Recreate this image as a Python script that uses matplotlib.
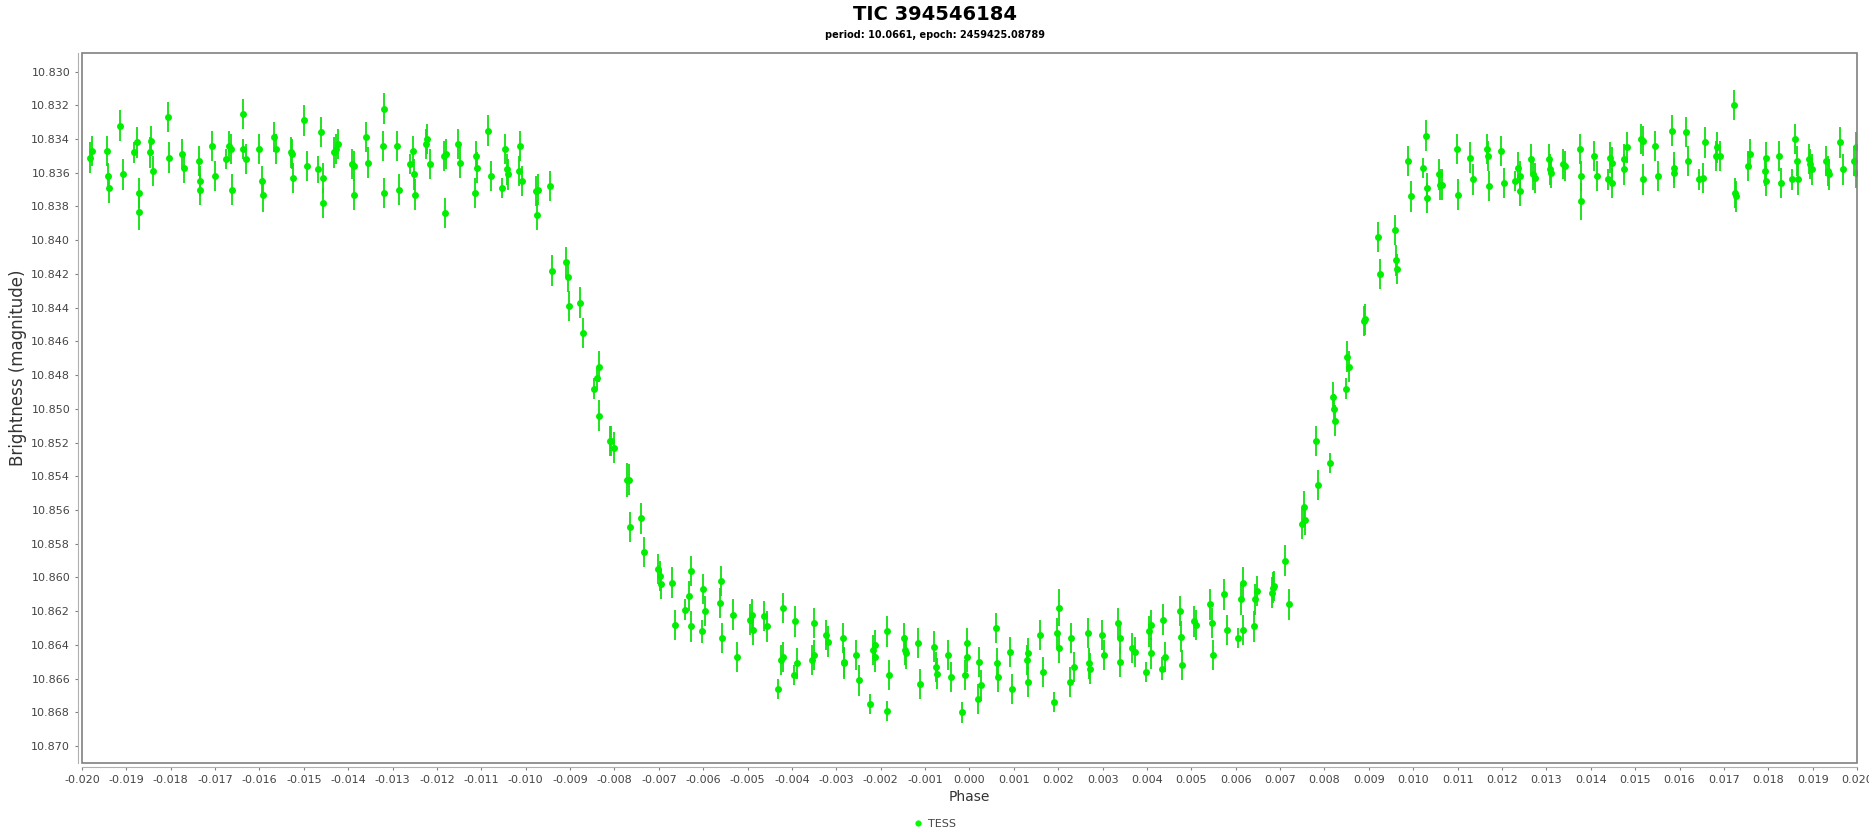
# Phase-folded TESS light curve of TIC 394546184, JFreeChart-ish look
import numpy as np
import matplotlib
matplotlib.use("Agg")
import matplotlib.pyplot as plt
from matplotlib.patches import Rectangle
from matplotlib.lines import Line2D

# out-of-transit, before ingress
phase_pre = [
    -0.01982, -0.01977, -0.01944, -0.01941, -0.01940, -0.01914, -0.01908, -0.01883, -0.01875, -0.01872,
    -0.01871, -0.01846, -0.01845, -0.01839, -0.01807, -0.01803, -0.01775, -0.01770, -0.01737, -0.01734,
    -0.01733, -0.01706, -0.01701, -0.01676, -0.01668, -0.01664, -0.01663, -0.01638, -0.01637, -0.01631,
    -0.01600, -0.01594, -0.01593, -0.01568, -0.01562, -0.01530, -0.01526, -0.01525, -0.01499, -0.01493,
    -0.01468, -0.01461, -0.01458, -0.01457, -0.01431, -0.01428, -0.01424, -0.01392, -0.01388, -0.01387,
    -0.01361, -0.01355, -0.01320, -0.01322, -0.01319, -0.01291, -0.01286, -0.01261, -0.01254, -0.01251,
    -0.01250, -0.01224, -0.01222, -0.01216, -0.01184, -0.01180, -0.01181, -0.01153, -0.01148, -0.01115,
    -0.01112, -0.01110, -0.01085, -0.01078, -0.01054, -0.01047, -0.01042, -0.01041, -0.01016, -0.01014,
    -0.01009, -0.00977, -0.00973, -0.00974, -0.00946]
mag_pre = [
    10.8351, 10.8347, 10.8347, 10.8362, 10.8369, 10.8332, 10.8361, 10.8348, 10.8342, 10.8372,
    10.8383, 10.8348, 10.8341, 10.8359, 10.8327, 10.8351, 10.8349, 10.8357, 10.8353, 10.8365,
    10.8370, 10.8344, 10.8362, 10.8352, 10.8344, 10.8346, 10.8370, 10.8325, 10.8346, 10.8352,
    10.8346, 10.8365, 10.8373, 10.8339, 10.8346, 10.8348, 10.8349, 10.8363, 10.8329, 10.8356,
    10.8358, 10.8336, 10.8363, 10.8378, 10.8348, 10.8346, 10.8343, 10.8355, 10.8356, 10.8373,
    10.8339, 10.8354, 10.8322, 10.8344, 10.8372, 10.8344, 10.8370, 10.8355, 10.8347, 10.8361,
    10.8373, 10.8343, 10.8340, 10.8355, 10.8350, 10.8349, 10.8384, 10.8343, 10.8354, 10.8372,
    10.8350, 10.8357, 10.8335, 10.8362, 10.8369, 10.8346, 10.8358, 10.8361, 10.8359, 10.8344,
    10.8365, 10.8371, 10.8370, 10.8385, 10.8368]
err_pre = [
    0.0009, 0.0009, 0.0009, 0.0008, 0.0009, 0.0009, 0.0009, 0.0006, 0.0009, 0.0009,
    0.0011, 0.0009, 0.0009, 0.0009, 0.0009, 0.0009, 0.0009, 0.0009, 0.0009, 0.0009,
    0.0009, 0.0009, 0.0009, 0.0006, 0.0009, 0.0009, 0.0009, 0.0009, 0.0006, 0.0009,
    0.0009, 0.0009, 0.0010, 0.0009, 0.0009, 0.0009, 0.0009, 0.0009, 0.0009, 0.0009,
    0.0008, 0.0009, 0.0009, 0.0009, 0.0009, 0.0009, 0.0009, 0.0009, 0.0009, 0.0009,
    0.0009, 0.0009, 0.0009, 0.0009, 0.0009, 0.0009, 0.0009, 0.0006, 0.0009, 0.0009,
    0.0009, 0.0009, 0.0009, 0.0009, 0.0009, 0.0009, 0.0009, 0.0009, 0.0009, 0.0009,
    0.0009, 0.0009, 0.0009, 0.0009, 0.0006, 0.0009, 0.0009, 0.0009, 0.0009, 0.0009,
    0.0009, 0.0009, 0.0009, 0.0009, 0.0009]

# ingress and first half of the floor
phase_ingress = [
    -0.00941, -0.00909, -0.00904, -0.00903, -0.00877, -0.00872, -0.00846, -0.00839, -0.00835, -0.00834,
    -0.00810, -0.00807, -0.00802, -0.00771, -0.00767, -0.00766, -0.00740, -0.00733, -0.00701, -0.00697,
    -0.00696, -0.00670, -0.00664, -0.00640, -0.00632, -0.00628, -0.00627, -0.00603, -0.00600, -0.00595,
    -0.00563, -0.00559, -0.00558, -0.00532, -0.00525, -0.00494, -0.00490, -0.00489, -0.00462, -0.00457,
    -0.00431, -0.00424, -0.00421, -0.00420, -0.00395, -0.00394, -0.00388, -0.00354, -0.00351, -0.00350,
    -0.00324, -0.00319]
mag_ingress = [
    10.8418, 10.8413, 10.8422, 10.8439, 10.8437, 10.8455, 10.8488, 10.8482, 10.8475, 10.8504,
    10.8519, 10.8519, 10.8523, 10.8542, 10.8542, 10.8570, 10.8565, 10.8585, 10.8595, 10.8599,
    10.8604, 10.8603, 10.8628, 10.8619, 10.8611, 10.8596, 10.8629, 10.8632, 10.8607, 10.8620,
    10.8615, 10.8602, 10.8636, 10.8622, 10.8647, 10.8625, 10.8622, 10.8631, 10.8623, 10.8629,
    10.8666, 10.8649, 10.8618, 10.8647, 10.8658, 10.8626, 10.8651, 10.8649, 10.8627, 10.8646,
    10.8634, 10.8638]
err_ingress = [
    0.0009, 0.0009, 0.0009, 0.0009, 0.0009, 0.0009, 0.0006, 0.0006, 0.0009, 0.0009,
    0.0009, 0.0009, 0.0009, 0.0010, 0.0009, 0.0009, 0.0009, 0.0009, 0.0009, 0.0009,
    0.0009, 0.0009, 0.0009, 0.0006, 0.0009, 0.0009, 0.0009, 0.0007, 0.0009, 0.0009,
    0.0009, 0.0009, 0.0009, 0.0009, 0.0009, 0.0009, 0.0009, 0.0009, 0.0009, 0.0009,
    0.0006, 0.0009, 0.0009, 0.0009, 0.0006, 0.0009, 0.0009, 0.0009, 0.0009, 0.0009,
    0.0009, 0.0009]

# transit floor up to the start of egress
phase_floor = [
    -0.00286, -0.00283, -0.00282, -0.00255, -0.00250, -0.00224, -0.00217, -0.00214, -0.00213, -0.00187,
    -0.00186, -0.00181, -0.00148, -0.00145, -0.00144, -0.00117, -0.00111, -0.00079, -0.00075, -0.00074,
    -0.00048, -0.00042, -0.00017, -0.00010, -0.00006, -0.00005, 0.00020, 0.00022, 0.00027, 0.00059,
    0.00063, 0.00064, 0.00091, 0.00096, 0.00129, 0.00131, 0.00132, 0.00159, 0.00165, 0.00190,
    0.00198, 0.00201, 0.00202, 0.00227, 0.00229, 0.00235, 0.00266, 0.00270, 0.00271, 0.00298,
    0.00303, 0.00335, 0.00339, 0.00340, 0.00367, 0.00372, 0.00398, 0.00404, 0.00408, 0.00409,
    0.00434, 0.00436, 0.00441, 0.00474, 0.00477, 0.00478, 0.00506, 0.00510, 0.00543, 0.00547,
    0.00548, 0.00574, 0.00580, 0.00604, 0.00612, 0.00616, 0.00617, 0.00642, 0.00643, 0.00649,
    0.00682, 0.00685, 0.00686, 0.00712, 0.00719, 0.00750, 0.00754, 0.00755]
mag_floor = [
    10.8636, 10.8650, 10.8651, 10.8646, 10.8661, 10.8675, 10.8643, 10.8640, 10.8647, 10.8679,
    10.8632, 10.8658, 10.8636, 10.8643, 10.8645, 10.8639, 10.8663, 10.8641, 10.8653, 10.8657,
    10.8646, 10.8659, 10.8680, 10.8658, 10.8639, 10.8647, 10.8672, 10.8650, 10.8664, 10.8630,
    10.8651, 10.8659, 10.8644, 10.8666, 10.8649, 10.8645, 10.8662, 10.8634, 10.8656, 10.8674,
    10.8633, 10.8618, 10.8642, 10.8662, 10.8636, 10.8653, 10.8633, 10.8651, 10.8654, 10.8634,
    10.8646, 10.8627, 10.8636, 10.8650, 10.8642, 10.8644, 10.8656, 10.8632, 10.8628, 10.8645,
    10.8654, 10.8625, 10.8647, 10.8620, 10.8635, 10.8652, 10.8626, 10.8628, 10.8616, 10.8627,
    10.8646, 10.8610, 10.8631, 10.8636, 10.8613, 10.8603, 10.8631, 10.8629, 10.8613, 10.8608,
    10.8609, 10.8606, 10.8605, 10.8590, 10.8616, 10.8568, 10.8558, 10.8566]
err_floor = [
    0.0009, 0.0009, 0.0009, 0.0009, 0.0009, 0.0006, 0.0009, 0.0009, 0.0009, 0.0006,
    0.0009, 0.0009, 0.0009, 0.0009, 0.0009, 0.0009, 0.0009, 0.0009, 0.0009, 0.0009,
    0.0009, 0.0009, 0.0006, 0.0009, 0.0009, 0.0009, 0.0009, 0.0009, 0.0009, 0.0009,
    0.0009, 0.0009, 0.0009, 0.0009, 0.0009, 0.0009, 0.0009, 0.0009, 0.0009, 0.0006,
    0.0009, 0.0011, 0.0009, 0.0009, 0.0009, 0.0009, 0.0009, 0.0009, 0.0009, 0.0009,
    0.0009, 0.0009, 0.0009, 0.0009, 0.0009, 0.0009, 0.0006, 0.0009, 0.0009, 0.0009,
    0.0007, 0.0009, 0.0009, 0.0009, 0.0009, 0.0009, 0.0009, 0.0009, 0.0009, 0.0009,
    0.0009, 0.0009, 0.0009, 0.0006, 0.0009, 0.0009, 0.0009, 0.0009, 0.0009, 0.0009,
    0.0009, 0.0009, 0.0009, 0.0009, 0.0009, 0.0009, 0.0009, 0.0009]

# steep part of egress
phase_egress = [
    0.00781, 0.00786, 0.00813, 0.00820, 0.00822, 0.00823, 0.00849, 0.00851, 0.00856, 0.00889,
    0.00892, 0.00920, 0.00925, 0.00958, 0.00962, 0.00963]
mag_egress = [
    10.8519, 10.8545, 10.8532, 10.8493, 10.8500, 10.8507, 10.8488, 10.8469, 10.8475, 10.8448,
    10.8447, 10.8398, 10.8420, 10.8394, 10.8412, 10.8417]
err_egress = [
    0.0009, 0.0009, 0.0006, 0.0009, 0.0009, 0.0009, 0.0006, 0.0009, 0.0009, 0.0009,
    0.0009, 0.0009, 0.0009, 0.0009, 0.0009, 0.0009]

# out-of-transit, after egress
phase_post = [
    0.00989, 0.00996, 0.01022, 0.01028, 0.01031, 0.01032, 0.01059, 0.01060, 0.01065, 0.01098,
    0.01101, 0.01129, 0.01135, 0.01167, 0.01169, 0.01170, 0.01198, 0.01204, 0.01229, 0.01235,
    0.01240, 0.01241, 0.01265, 0.01269, 0.01274, 0.01305, 0.01309, 0.01310, 0.01337, 0.01342,
    0.01375, 0.01378, 0.01379, 0.01407, 0.01413, 0.01438, 0.01444, 0.01448, 0.01449, 0.01474,
    0.01475, 0.01482, 0.01514, 0.01517, 0.01518, 0.01545, 0.01551, 0.01583, 0.01587, 0.01588,
    0.01615, 0.01620, 0.01645, 0.01654, 0.01657, 0.01683, 0.01685, 0.01691, 0.01723, 0.01726,
    0.01727, 0.01754, 0.01759, 0.01792, 0.01795, 0.01796, 0.01824, 0.01828, 0.01854, 0.01861,
    0.01865, 0.01866, 0.01892, 0.01894, 0.01898, 0.01931, 0.01935, 0.01936, 0.01962, 0.01968,
    0.01993, 0.01997, 0.01998]
mag_post = [
    10.8353, 10.8374, 10.8357, 10.8338, 10.8369, 10.8375, 10.8361, 10.8367, 10.8367, 10.8346,
    10.8373, 10.8351, 10.8364, 10.8346, 10.8350, 10.8368, 10.8347, 10.8366, 10.8365, 10.8357,
    10.8362, 10.8371, 10.8352, 10.8361, 10.8363, 10.8352, 10.8358, 10.8360, 10.8355, 10.8356,
    10.8346, 10.8362, 10.8377, 10.8350, 10.8362, 10.8364, 10.8351, 10.8354, 10.8366, 10.8352,
    10.8358, 10.8345, 10.8340, 10.8341, 10.8364, 10.8344, 10.8362, 10.8335, 10.8357, 10.8360,
    10.8336, 10.8353, 10.8364, 10.8363, 10.8342, 10.8350, 10.8345, 10.8350, 10.8320, 10.8372,
    10.8374, 10.8356, 10.8349, 10.8359, 10.8351, 10.8365, 10.8350, 10.8366, 10.8364, 10.8340,
    10.8353, 10.8364, 10.8352, 10.8355, 10.8358, 10.8353, 10.8359, 10.8361, 10.8342, 10.8358,
    10.8353, 10.8345, 10.8360]
err_post = [
    0.0009, 0.0009, 0.0006, 0.0009, 0.0009, 0.0009, 0.0009, 0.0009, 0.0009, 0.0009,
    0.0009, 0.0009, 0.0009, 0.0009, 0.0009, 0.0009, 0.0009, 0.0009, 0.0006, 0.0009,
    0.0009, 0.0009, 0.0009, 0.0009, 0.0009, 0.0009, 0.0009, 0.0009, 0.0009, 0.0009,
    0.0009, 0.0009, 0.0011, 0.0009, 0.0009, 0.0006, 0.0009, 0.0009, 0.0009, 0.0009,
    0.0009, 0.0009, 0.0009, 0.0009, 0.0009, 0.0009, 0.0009, 0.0009, 0.0009, 0.0009,
    0.0009, 0.0009, 0.0006, 0.0009, 0.0009, 0.0009, 0.0009, 0.0009, 0.0009, 0.0009,
    0.0009, 0.0009, 0.0009, 0.0009, 0.0009, 0.0009, 0.0009, 0.0009, 0.0006, 0.0009,
    0.0009, 0.0009, 0.0009, 0.0009, 0.0009, 0.0009, 0.0009, 0.0009, 0.0009, 0.0009,
    0.0009, 0.0009, 0.0009]

phase = np.array(phase_pre + phase_ingress + phase_floor + phase_egress + phase_post)
mag = np.array(mag_pre + mag_ingress + mag_floor + mag_egress + mag_post)
err = np.array(err_pre + err_ingress + err_floor + err_egress + err_post)

title = "TIC 394546184"
subtitle = "period: 10.0661, epoch: 2459425.08789"
green = "#00ee00"
grey = "#808080"
txt = "#444444"

fig = plt.figure(figsize=(18.69, 8.36), dpi=100)
ax = fig.add_axes([0.04387, 0.08732, 0.94971, 0.8493])

ax.errorbar(phase, mag, yerr=err, fmt="o", color=green, ecolor="#10e010",
            elinewidth=1.3, capsize=3.2, capthick=1.3, markersize=5,
            markeredgewidth=0, zorder=3)

ax.set_xlim(-0.020, 0.020)
ax.set_ylim(10.8710, 10.8289)  # magnitudes: brighter at the top

xt = np.round(np.arange(-20, 21) * 0.001, 3)
ax.set_xticks(xt)
ax.set_xticklabels(["{:.3f}".format(v + 0.0) for v in xt])
yt = np.round(10.830 + np.arange(0, 21) * 0.002, 3)
ax.set_yticks(yt)
ax.set_yticklabels(["{:.3f}".format(v) for v in yt])
ax.tick_params(axis="both", labelsize=8, colors=grey, labelcolor=txt,
               length=2.5, width=0.8, direction="out", pad=3)

for side in ["top", "right"]:
    ax.spines[side].set_visible(False)
for side in ["left", "bottom"]:
    ax.spines[side].set_position(("outward", 3))
    ax.spines[side].set_color("#b0b0b0")
    ax.spines[side].set_linewidth(0.8)
# plot outline
ax.add_patch(Rectangle((0, 0), 1, 1, transform=ax.transAxes, fill=False,
                       edgecolor=grey, linewidth=1.2, clip_on=False, zorder=5))

ax.set_xlabel("Phase", fontsize=10, color="#333333", labelpad=4)
ax.set_ylabel("Brightness (magnitude)", fontsize=12, color="#333333")
ax.yaxis.set_label_coords(-0.031, 0.556)

fig.text(0.5, 1 - 14 / 836, title, ha="center", va="center",
         fontsize=14, fontweight="bold", color="black")
fig.text(0.5, 1 - 35 / 836, subtitle, ha="center", va="center",
         fontsize=7, fontweight="bold", color="black")

handle = Line2D([], [], marker="o", linestyle="none", color="#00ff00",
                markersize=4.5, markeredgewidth=0)
fig.legend([handle], ["TESS"], loc="center", bbox_to_anchor=(0.5, 1 - 824 / 836),
           frameon=False, fontsize=8, labelcolor=txt, handletextpad=0.4,
           handlelength=1.0)

fig.savefig("out.png", dpi=100, facecolor="white")
